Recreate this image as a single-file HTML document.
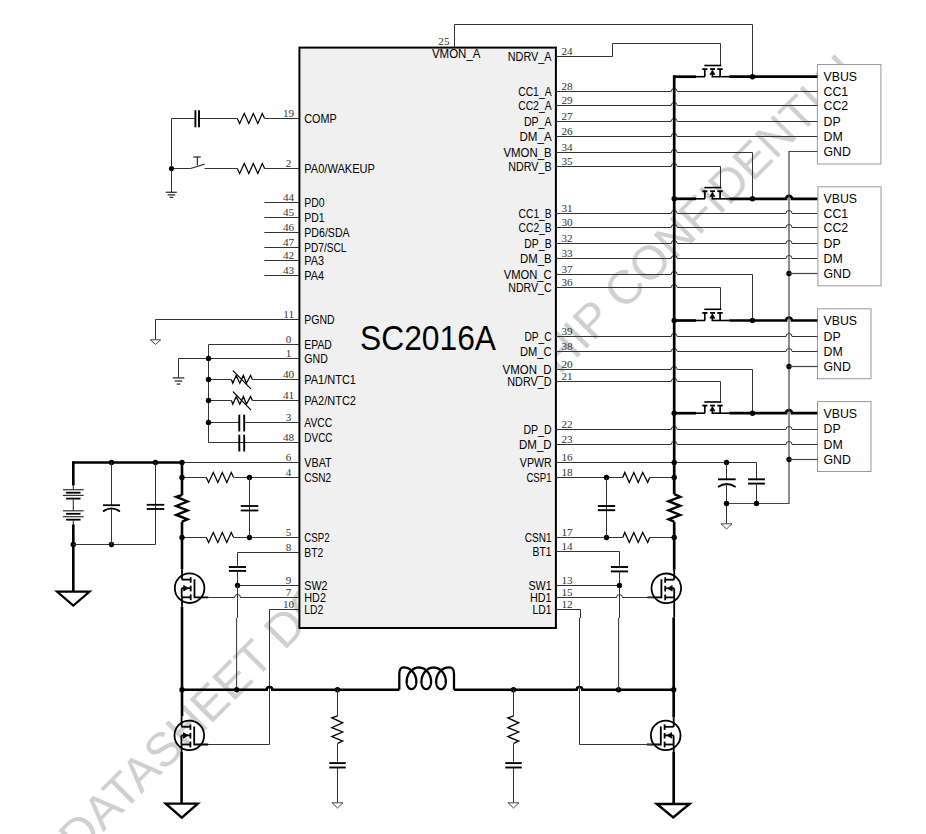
<!DOCTYPE html>
<html><head><meta charset="utf-8"><style>
html,body{margin:0;padding:0;background:#fff;}
svg{display:block;}
</style></head><body>
<svg width="926" height="834" viewBox="0 0 926 834">
<rect width="926" height="834" fill="#fff"/>
<text x="78.8" y="856.5" font-family="Liberation Sans" font-size="47.5" fill="#d0d0d0" transform="rotate(-45 78.8 856.5)">DATASHEET DOCUMENT</text><text x="534.9" y="400.1" font-family="Liberation Sans" font-size="47.5" fill="#d0d0d0" transform="rotate(-45 534.9 400.1)">CHIP CONFIDENTIAL</text>
<rect x="299.4" y="47.6" width="256.50" height="580.40" fill="#f0f0f0" stroke="#000" stroke-width="2"/>
<rect x="817.4" y="64.5" width="63.50" height="99.50" fill="#fff" stroke="#999" stroke-width="1"/><rect x="817.9" y="186.8" width="63.10" height="99.00" fill="#fff" stroke="#999" stroke-width="1"/><rect x="817.5" y="308.8" width="53.50" height="69.90" fill="#fff" stroke="#999" stroke-width="1"/><rect x="817.5" y="401.6" width="53.50" height="69.90" fill="#fff" stroke="#999" stroke-width="1"/>
<g stroke-linecap="butt">
<line x1="264.40" y1="202.50" x2="299.40" y2="202.50" stroke="#333" stroke-width="1.2"/>
<line x1="264.40" y1="217.50" x2="299.40" y2="217.50" stroke="#333" stroke-width="1.2"/>
<line x1="264.40" y1="232.50" x2="299.40" y2="232.50" stroke="#333" stroke-width="1.2"/>
<line x1="264.40" y1="247.50" x2="299.40" y2="247.50" stroke="#333" stroke-width="1.2"/>
<line x1="264.40" y1="260.50" x2="299.40" y2="260.50" stroke="#333" stroke-width="1.2"/>
<line x1="264.40" y1="275.50" x2="299.40" y2="275.50" stroke="#333" stroke-width="1.2"/>
<path d="M299.40,118.50 L265.00,118.50" stroke="#333" stroke-width="1.0" fill="none" stroke-linejoin="miter"/>
<path d="M237.30,118.50 L239.60,123.50 L244.30,113.50 L248.80,123.50 L253.30,113.50 L257.80,123.50 L262.30,113.50 L264.60,118.50" stroke="#000" stroke-width="1.2" fill="none" stroke-linejoin="miter"/>
<path d="M237.30,118.50 L199.00,118.50" stroke="#333" stroke-width="1.0" fill="none" stroke-linejoin="miter"/>
<line x1="195.40" y1="110.20" x2="195.40" y2="127.30" stroke="#000" stroke-width="1.9"/>
<line x1="199.00" y1="110.20" x2="199.00" y2="127.30" stroke="#000" stroke-width="1.9"/>
<path d="M195.40,118.50 L171.50,118.50 L171.50,192.30" stroke="#333" stroke-width="1.0" fill="none" stroke-linejoin="miter"/>
<path d="M299.40,168.50 L264.60,168.50" stroke="#333" stroke-width="1.0" fill="none" stroke-linejoin="miter"/>
<path d="M237.30,168.50 L239.60,173.50 L244.30,163.50 L248.80,173.50 L253.30,163.50 L257.80,173.50 L262.30,163.50 L264.60,168.50" stroke="#000" stroke-width="1.2" fill="none" stroke-linejoin="miter"/>
<line x1="204.60" y1="168.50" x2="237.30" y2="168.50" stroke="#333" stroke-width="1.0"/>
<line x1="171.50" y1="168.50" x2="190.60" y2="168.50" stroke="#333" stroke-width="1.0"/>
<line x1="190.60" y1="168.50" x2="204.60" y2="164.10" stroke="#333" stroke-width="1.3"/>
<line x1="197.40" y1="157.00" x2="197.40" y2="165.30" stroke="#333" stroke-width="1.3"/>
<line x1="193.30" y1="157.00" x2="200.80" y2="157.00" stroke="#333" stroke-width="1.3"/>
<circle cx="171.50" cy="168.50" r="2.6" fill="#000"/>
<line x1="165.80" y1="192.30" x2="176.80" y2="192.30" stroke="#333" stroke-width="1.3"/>
<line x1="167.60" y1="194.90" x2="175.20" y2="194.90" stroke="#333" stroke-width="1.3"/>
<line x1="169.60" y1="197.40" x2="173.20" y2="197.40" stroke="#333" stroke-width="1.3"/>
<path d="M299.40,319.50 L155.50,319.50 L155.50,339.80" stroke="#333" stroke-width="1.0" fill="none" stroke-linejoin="miter"/>
<path d="M150.30,339.80 L160.70,339.80 L155.50,344.40Z" stroke="#444" stroke-width="1.0" fill="none" stroke-linejoin="miter"/>
<path d="M299.40,344.50 L208.50,344.50 L208.50,442.50 L299.40,442.50" stroke="#333" stroke-width="1.0" fill="none" stroke-linejoin="miter"/>
<path d="M299.40,358.50 L178.50,358.50 L178.50,377.90" stroke="#333" stroke-width="1.0" fill="none" stroke-linejoin="miter"/>
<line x1="172.70" y1="377.90" x2="184.30" y2="377.90" stroke="#333" stroke-width="1.3"/>
<line x1="174.70" y1="381.00" x2="182.30" y2="381.00" stroke="#333" stroke-width="1.3"/>
<line x1="176.70" y1="384.10" x2="180.30" y2="384.10" stroke="#333" stroke-width="1.3"/>
<circle cx="208.50" cy="358.50" r="2.7" fill="#000"/>
<line x1="208.50" y1="379.50" x2="231.40" y2="379.50" stroke="#333" stroke-width="1.0"/>
<line x1="252.40" y1="379.50" x2="299.40" y2="379.50" stroke="#333" stroke-width="1.0"/>
<path d="M231.40,379.50 L232.80,383.30 L236.20,375.50 L239.80,383.30 L243.40,375.50 L246.40,383.30 L250.60,375.50 L252.40,379.50" stroke="#000" stroke-width="1.3" fill="none" stroke-linejoin="miter"/>
<line x1="233.2" y1="370.90" x2="250.6" y2="388.60" stroke="#000" stroke-width="1.3" stroke-linecap="round"/>
<circle cx="208.50" cy="379.50" r="2.7" fill="#000"/>
<line x1="208.50" y1="400.50" x2="231.40" y2="400.50" stroke="#333" stroke-width="1.0"/>
<line x1="252.40" y1="400.50" x2="299.40" y2="400.50" stroke="#333" stroke-width="1.0"/>
<path d="M231.40,400.50 L232.80,404.30 L236.20,396.50 L239.80,404.30 L243.40,396.50 L246.40,404.30 L250.60,396.50 L252.40,400.50" stroke="#000" stroke-width="1.3" fill="none" stroke-linejoin="miter"/>
<line x1="233.2" y1="391.90" x2="250.6" y2="409.60" stroke="#000" stroke-width="1.3" stroke-linecap="round"/>
<circle cx="208.50" cy="400.50" r="2.7" fill="#000"/>
<line x1="208.50" y1="422.50" x2="239.30" y2="422.50" stroke="#333" stroke-width="1.0"/>
<line x1="244.20" y1="422.50" x2="299.40" y2="422.50" stroke="#333" stroke-width="1.0"/>
<line x1="239.30" y1="414.70" x2="239.30" y2="431.50" stroke="#000" stroke-width="1.9"/>
<line x1="244.20" y1="414.70" x2="244.20" y2="431.50" stroke="#000" stroke-width="1.9"/>
<line x1="208.50" y1="442.50" x2="239.30" y2="442.50" stroke="#333" stroke-width="1.0"/>
<line x1="244.20" y1="442.50" x2="299.40" y2="442.50" stroke="#333" stroke-width="1.0"/>
<line x1="239.30" y1="434.70" x2="239.30" y2="451.50" stroke="#000" stroke-width="1.9"/>
<line x1="244.20" y1="434.70" x2="244.20" y2="451.50" stroke="#000" stroke-width="1.9"/>
<circle cx="208.50" cy="422.50" r="2.7" fill="#000"/>
<line x1="73.00" y1="462.50" x2="182.00" y2="462.50" stroke="#000" stroke-width="2.6"/>
<line x1="182.00" y1="462.50" x2="299.40" y2="462.50" stroke="#333" stroke-width="1.0"/>
<circle cx="111.50" cy="462.50" r="2.7" fill="#000"/>
<circle cx="155.50" cy="462.50" r="2.7" fill="#000"/>
<circle cx="182.00" cy="462.50" r="2.7" fill="#000"/>
<line x1="73.30" y1="461.20" x2="73.30" y2="484.40" stroke="#000" stroke-width="2.6"/>
<circle cx="73.3" cy="484.4" r="1.3" fill="#000"/>
<line x1="73.30" y1="484.40" x2="73.30" y2="489.70" stroke="#333" stroke-width="1.1"/>
<line x1="62.90" y1="489.70" x2="83.70" y2="489.70" stroke="#333" stroke-width="1.2"/>
<line x1="66.10" y1="492.70" x2="80.50" y2="492.70" stroke="#000" stroke-width="1.8"/>
<line x1="62.90" y1="495.40" x2="83.70" y2="495.40" stroke="#333" stroke-width="1.2"/>
<line x1="66.10" y1="498.60" x2="80.50" y2="498.60" stroke="#000" stroke-width="1.8"/>
<line x1="62.90" y1="510.80" x2="83.70" y2="510.80" stroke="#333" stroke-width="1.2"/>
<line x1="66.10" y1="513.80" x2="80.50" y2="513.80" stroke="#000" stroke-width="1.8"/>
<line x1="62.90" y1="516.70" x2="83.70" y2="516.70" stroke="#333" stroke-width="1.2"/>
<line x1="66.10" y1="519.70" x2="80.50" y2="519.70" stroke="#000" stroke-width="1.8"/>
<line x1="73.30" y1="498.60" x2="73.30" y2="510.80" stroke="#333" stroke-width="1.1"/>
<line x1="73.30" y1="519.70" x2="73.30" y2="525.60" stroke="#333" stroke-width="1.1"/>
<circle cx="73.3" cy="525.6" r="1.3" fill="#000"/>
<line x1="73.30" y1="525.60" x2="73.30" y2="591.60" stroke="#000" stroke-width="2.6"/>
<circle cx="73.30" cy="544.50" r="2.7" fill="#000"/>
<path d="M73.30,544.50 L155.50,544.50" stroke="#333" stroke-width="1.0" fill="none" stroke-linejoin="miter"/>
<circle cx="111.50" cy="544.50" r="2.7" fill="#000"/>
<line x1="111.50" y1="462.50" x2="111.50" y2="505.20" stroke="#333" stroke-width="1.0"/>
<line x1="111.50" y1="508.40" x2="111.50" y2="544.50" stroke="#333" stroke-width="1.0"/>
<line x1="103.00" y1="505.20" x2="120.00" y2="505.20" stroke="#000" stroke-width="1.8"/>
<path d="M103,511.4 Q111.4,505.4 120,511.4" stroke="#000" stroke-width="1.8" fill="none"/>
<line x1="155.50" y1="462.50" x2="155.50" y2="544.50" stroke="#333" stroke-width="1.0"/>
<line x1="146.70" y1="504.80" x2="164.30" y2="504.80" stroke="#000" stroke-width="1.8"/>
<line x1="146.70" y1="509.00" x2="164.30" y2="509.00" stroke="#000" stroke-width="1.8"/>
<path d="M57.00,591.60 L89.60,591.60 L73.30,605.60Z" stroke="#000" stroke-width="2.2" fill="none" stroke-linejoin="miter"/>
<line x1="182.00" y1="477.50" x2="206.80" y2="477.50" stroke="#333" stroke-width="1.0"/>
<path d="M206.30,477.50 L208.60,482.50 L213.30,472.50 L217.80,482.50 L222.30,472.50 L226.80,482.50 L231.30,472.50 L233.60,477.50" stroke="#000" stroke-width="1.2" fill="none" stroke-linejoin="miter"/>
<line x1="234.10" y1="477.50" x2="299.40" y2="477.50" stroke="#333" stroke-width="1.0"/>
<circle cx="182.00" cy="477.50" r="2.7" fill="#000"/>
<circle cx="249.50" cy="477.50" r="2.7" fill="#000"/>
<line x1="182.00" y1="537.50" x2="206.80" y2="537.50" stroke="#333" stroke-width="1.0"/>
<path d="M206.30,537.50 L208.60,542.50 L213.30,532.50 L217.80,542.50 L222.30,532.50 L226.80,542.50 L231.30,532.50 L233.60,537.50" stroke="#000" stroke-width="1.2" fill="none" stroke-linejoin="miter"/>
<line x1="234.10" y1="537.50" x2="299.40" y2="537.50" stroke="#333" stroke-width="1.0"/>
<circle cx="182.00" cy="537.50" r="2.7" fill="#000"/>
<circle cx="249.50" cy="537.50" r="2.7" fill="#000"/>
<line x1="249.50" y1="477.50" x2="249.50" y2="537.50" stroke="#333" stroke-width="1.0"/>
<line x1="240.70" y1="506.00" x2="258.30" y2="506.00" stroke="#000" stroke-width="1.8"/>
<line x1="240.70" y1="510.50" x2="258.30" y2="510.50" stroke="#000" stroke-width="1.8"/>
<line x1="182.00" y1="462.50" x2="182.00" y2="495.40" stroke="#000" stroke-width="2.6"/>
<path d="M182.00,495.00 L176.20,496.90 L187.60,501.50 L176.20,506.00 L187.60,510.40 L176.20,514.90 L187.60,519.30 L182.00,521.70" stroke="#000" stroke-width="2.4" fill="none" stroke-linejoin="miter"/>
<line x1="182.00" y1="521.70" x2="182.00" y2="569.30" stroke="#000" stroke-width="2.6"/>
<line x1="182.00" y1="569.30" x2="182.00" y2="579.40" stroke="#000" stroke-width="1.8"/>
<line x1="182.00" y1="597.40" x2="182.00" y2="606.50" stroke="#000" stroke-width="1.8"/>
<line x1="182.00" y1="606.50" x2="182.00" y2="716.40" stroke="#000" stroke-width="2.6"/>
<line x1="181.60" y1="716.40" x2="181.60" y2="726.80" stroke="#000" stroke-width="1.8"/>
<line x1="181.60" y1="744.50" x2="181.60" y2="752.00" stroke="#000" stroke-width="1.8"/>
<line x1="181.60" y1="752.00" x2="181.60" y2="803.60" stroke="#000" stroke-width="2.6"/>
<circle cx="189.60" cy="588.20" r="14.8" stroke="#000" stroke-width="1.8" fill="none"/>
<path d="M181.70,579.60 L190.70,579.60" stroke="#000" stroke-width="1.8" fill="none" stroke-linejoin="miter"/>
<path d="M190.70,597.30 L181.70,597.30" stroke="#000" stroke-width="1.8" fill="none" stroke-linejoin="miter"/>
<line x1="181.70" y1="588.20" x2="181.70" y2="597.30" stroke="#000" stroke-width="1.8"/>
<line x1="190.70" y1="588.20" x2="181.70" y2="588.20" stroke="#000" stroke-width="1.8"/>
<line x1="190.70" y1="577.20" x2="190.70" y2="582.70" stroke="#000" stroke-width="1.8"/>
<line x1="190.70" y1="585.70" x2="190.70" y2="591.40" stroke="#000" stroke-width="1.8"/>
<line x1="190.70" y1="594.40" x2="190.70" y2="600.20" stroke="#000" stroke-width="1.8"/>
<path d="M188.10,588.20 L183.70,585.40 L183.70,591.00Z" stroke="#000" stroke-width="0.8" fill="#000" stroke-linejoin="miter"/>
<path d="M194.50,579.20 L194.50,597.30 L208.50,597.30" stroke="#000" stroke-width="1.8" fill="none" stroke-linejoin="miter"/>
<path d="M299.40,552.50 L237.50,552.50 L237.50,567.00" stroke="#333" stroke-width="1.0" fill="none" stroke-linejoin="miter"/>
<line x1="228.90" y1="567.00" x2="246.10" y2="567.00" stroke="#000" stroke-width="1.9"/>
<line x1="228.90" y1="570.90" x2="246.10" y2="570.90" stroke="#000" stroke-width="1.9"/>
<line x1="237.50" y1="570.90" x2="237.50" y2="585.50" stroke="#333" stroke-width="1.0"/>
<line x1="237.50" y1="585.50" x2="299.40" y2="585.50" stroke="#333" stroke-width="1.0"/>
<circle cx="237.50" cy="585.50" r="2.7" fill="#000"/>
<line x1="237.50" y1="585.50" x2="237.50" y2="618.00" stroke="#333" stroke-width="1.0"/>
<line x1="236.60" y1="618.00" x2="236.60" y2="689.80" stroke="#333" stroke-width="1.0"/>
<path d="M208.60,597.50 L234.50,597.50 A3.0,3.0 0 0 1 240.50,597.50 L299.40,597.50" stroke="#333" stroke-width="1.0" fill="none"/>
<path d="M299.40,609.50 L269.50,609.50 L269.50,744.50 L207.50,744.50" stroke="#333" stroke-width="1.0" fill="none" stroke-linejoin="miter"/>
<circle cx="189.30" cy="735.40" r="14.8" stroke="#000" stroke-width="1.8" fill="none"/>
<path d="M181.40,726.80 L190.40,726.80" stroke="#000" stroke-width="1.8" fill="none" stroke-linejoin="miter"/>
<path d="M190.40,744.50 L181.40,744.50" stroke="#000" stroke-width="1.8" fill="none" stroke-linejoin="miter"/>
<line x1="181.40" y1="735.40" x2="181.40" y2="744.50" stroke="#000" stroke-width="1.8"/>
<line x1="190.40" y1="735.40" x2="181.40" y2="735.40" stroke="#000" stroke-width="1.8"/>
<line x1="190.40" y1="724.40" x2="190.40" y2="729.90" stroke="#000" stroke-width="1.8"/>
<line x1="190.40" y1="732.90" x2="190.40" y2="738.60" stroke="#000" stroke-width="1.8"/>
<line x1="190.40" y1="741.60" x2="190.40" y2="747.40" stroke="#000" stroke-width="1.8"/>
<path d="M187.80,735.40 L183.40,732.60 L183.40,738.20Z" stroke="#000" stroke-width="0.8" fill="#000" stroke-linejoin="miter"/>
<path d="M194.20,726.40 L194.20,744.50 L208.20,744.50" stroke="#000" stroke-width="1.8" fill="none" stroke-linejoin="miter"/>
<path d="M165.80,803.60 L197.80,803.60 L181.80,817.60Z" stroke="#000" stroke-width="2.4" fill="none" stroke-linejoin="miter"/>
<path d="M182.00,689.80 L266.70,689.80 A2.8,2.8 0 0 1 272.30,689.80 L399.30,689.80" stroke="#000" stroke-width="2.6" fill="none"/>
<path d="M454.00,689.80 L576.70,689.80 A2.8,2.8 0 0 1 582.30,689.80 L673.70,689.80" stroke="#000" stroke-width="2.6" fill="none"/>
<circle cx="182.00" cy="689.80" r="2.7" fill="#000"/>
<circle cx="236.60" cy="689.80" r="2.7" fill="#000"/>
<circle cx="337.50" cy="689.80" r="2.7" fill="#000"/>
<circle cx="513.50" cy="689.80" r="2.7" fill="#000"/>
<circle cx="618.60" cy="689.80" r="2.7" fill="#000"/>
<circle cx="673.70" cy="689.80" r="2.7" fill="#000"/>
<path d="M399.3,689.8 L399.3,673.6 C399.3,669.2 401.1,667 404.12,667.50 L404.62,667.51 L405.11,667.55 L405.61,667.61 L406.10,667.69 L406.58,667.80 L407.07,667.93 L407.54,668.08 L408.01,668.26 L408.48,668.46 L408.94,668.68 L409.38,668.92 L409.82,669.18 L410.26,669.46 L410.68,669.77 L411.08,670.09 L411.48,670.43 L411.87,670.78 L412.24,671.16 L412.60,671.55 L412.94,671.95 L413.27,672.37 L413.58,672.80 L413.88,673.25 L414.16,673.70 L414.43,674.17 L414.68,674.64 L414.91,675.12 L415.13,675.61 L415.32,676.11 L415.50,676.61 L415.67,677.11 L415.81,677.62 L415.93,678.13 L416.04,678.64 L416.13,679.15 L416.20,679.65 L416.26,680.16 L416.29,680.66 L416.31,681.15 L416.31,681.64 L416.29,682.12 L416.26,682.59 L416.21,683.05 L416.14,683.50 L416.06,683.94 L415.96,684.37 L415.85,684.78 L415.72,685.18 L415.58,685.57 L415.43,685.94 L415.26,686.29 L415.08,686.62 L414.89,686.94 L414.69,687.23 L414.47,687.51 L414.25,687.76 L414.02,688.00 L413.78,688.21 L413.54,688.40 L413.28,688.57 L413.03,688.72 L412.76,688.84 L412.50,688.94 L412.23,689.01 L411.96,689.07 L411.68,689.09 L411.41,689.10 L411.14,689.08 L410.86,689.03 L410.59,688.97 L410.32,688.88 L410.06,688.76 L409.80,688.62 L409.55,688.46 L409.30,688.28 L409.06,688.07 L408.82,687.84 L408.60,687.60 L408.38,687.33 L408.18,687.04 L407.98,686.73 L407.80,686.40 L407.63,686.06 L407.47,685.69 L407.32,685.31 L407.19,684.92 L407.07,684.51 L406.97,684.09 L406.88,683.65 L406.81,683.20 L406.75,682.74 L406.72,682.28 L406.69,681.80 L406.69,681.31 L406.70,680.82 L406.73,680.32 L406.78,679.82 L406.84,679.32 L406.93,678.81 L407.03,678.30 L407.15,677.79 L407.28,677.28 L407.44,676.78 L407.61,676.28 L407.81,675.78 L408.02,675.29 L408.24,674.80 L408.49,674.32 L408.75,673.86 L409.02,673.40 L409.32,672.95 L409.63,672.51 L409.95,672.09 L410.29,671.68 L410.64,671.29 L411.01,670.91 L411.39,670.54 L411.78,670.20 L412.19,669.87 L412.60,669.56 L413.03,669.27 L413.47,669.00 L413.91,668.76 L414.37,668.53 L414.83,668.32 L415.30,668.14 L415.78,667.98 L416.26,667.84 L416.74,667.72 L417.23,667.63 L417.72,667.57 L418.22,667.52 L418.71,667.50 L419.21,667.51 L419.70,667.53 L420.19,667.59 L420.68,667.66 L421.17,667.76 L421.66,667.88 L422.13,668.03 L422.61,668.20 L423.07,668.39 L423.53,668.60 L423.99,668.84 L424.43,669.09 L424.86,669.37 L425.29,669.66 L425.70,669.98 L426.10,670.31 L426.49,670.66 L426.86,671.03 L427.23,671.42 L427.58,671.82 L427.91,672.23 L428.23,672.66 L428.53,673.10 L428.82,673.55 L429.09,674.01 L429.35,674.48 L429.59,674.96 L429.81,675.45 L430.01,675.94 L430.20,676.44 L430.36,676.95 L430.51,677.45 L430.64,677.96 L430.76,678.47 L430.85,678.98 L430.93,679.49 L430.99,679.99 L431.03,680.49 L431.06,680.99 L431.06,681.48 L431.05,681.96 L431.02,682.43 L430.98,682.90 L430.92,683.35 L430.84,683.80 L430.75,684.23 L430.64,684.65 L430.52,685.05 L430.38,685.44 L430.23,685.82 L430.07,686.17 L429.89,686.51 L429.70,686.83 L429.50,687.14 L429.29,687.42 L429.08,687.68 L428.85,687.92 L428.61,688.14 L428.37,688.34 L428.12,688.52 L427.86,688.67 L427.60,688.80 L427.34,688.91 L427.07,688.99 L426.80,689.05 L426.52,689.09 L426.25,689.10 L425.98,689.09 L425.70,689.05 L425.43,688.99 L425.16,688.91 L424.90,688.80 L424.64,688.67 L424.38,688.52 L424.13,688.34 L423.89,688.14 L423.65,687.92 L423.42,687.68 L423.21,687.42 L423.00,687.14 L422.80,686.83 L422.61,686.51 L422.43,686.17 L422.27,685.82 L422.12,685.44 L421.98,685.05 L421.86,684.65 L421.75,684.23 L421.66,683.80 L421.58,683.35 L421.52,682.90 L421.48,682.43 L421.45,681.96 L421.44,681.48 L421.44,680.99 L421.47,680.49 L421.51,679.99 L421.57,679.49 L421.65,678.98 L421.74,678.47 L421.86,677.96 L421.99,677.45 L422.14,676.95 L422.30,676.44 L422.49,675.94 L422.69,675.45 L422.91,674.96 L423.15,674.48 L423.41,674.01 L423.68,673.55 L423.97,673.10 L424.27,672.66 L424.59,672.23 L424.92,671.82 L425.27,671.42 L425.64,671.03 L426.01,670.66 L426.40,670.31 L426.80,669.98 L427.21,669.66 L427.64,669.37 L428.07,669.09 L428.51,668.84 L428.97,668.60 L429.43,668.39 L429.89,668.20 L430.37,668.03 L430.84,667.88 L431.33,667.76 L431.82,667.66 L432.31,667.59 L432.80,667.53 L433.29,667.51 L433.79,667.50 L434.28,667.52 L434.78,667.57 L435.27,667.63 L435.76,667.72 L436.24,667.84 L436.72,667.98 L437.20,668.14 L437.67,668.32 L438.13,668.53 L438.59,668.76 L439.03,669.00 L439.47,669.27 L439.90,669.56 L440.31,669.87 L440.72,670.20 L441.11,670.54 L441.49,670.91 L441.86,671.29 L442.21,671.68 L442.55,672.09 L442.87,672.51 L443.18,672.95 L443.48,673.40 L443.75,673.86 L444.01,674.32 L444.26,674.80 L444.48,675.29 L444.69,675.78 L444.89,676.28 L445.06,676.78 L445.22,677.28 L445.35,677.79 L445.47,678.30 L445.57,678.81 L445.66,679.32 L445.72,679.82 L445.77,680.32 L445.80,680.82 L445.81,681.31 L445.81,681.80 L445.78,682.28 L445.75,682.74 L445.69,683.20 L445.62,683.65 L445.53,684.09 L445.43,684.51 L445.31,684.92 L445.18,685.31 L445.03,685.69 L444.87,686.06 L444.70,686.40 L444.52,686.73 L444.32,687.04 L444.12,687.33 L443.90,687.60 L443.68,687.84 L443.44,688.07 L443.20,688.28 L442.95,688.46 L442.70,688.62 L442.44,688.76 L442.18,688.88 L441.91,688.97 L441.64,689.03 L441.36,689.08 L441.09,689.10 L440.82,689.09 L440.54,689.07 L440.27,689.01 L440.00,688.94 L439.74,688.84 L439.47,688.72 L439.22,688.57 L438.96,688.40 L438.72,688.21 L438.48,688.00 L438.25,687.76 L438.03,687.51 L437.81,687.23 L437.61,686.94 L437.42,686.62 L437.24,686.29 L437.07,685.94 L436.92,685.57 L436.78,685.18 L436.65,684.78 L436.54,684.37 L436.44,683.94 L436.36,683.50 L436.29,683.05 L436.24,682.59 L436.21,682.12 L436.19,681.64 L436.19,681.15 L436.21,680.66 L436.24,680.16 L436.30,679.65 L436.37,679.15 L436.46,678.64 L436.57,678.13 L436.69,677.62 L436.83,677.11 L437.00,676.61 L437.18,676.11 L437.37,675.61 L437.59,675.12 L437.82,674.64 L438.07,674.17 L438.34,673.70 L438.62,673.25 L438.92,672.80 L439.23,672.37 L439.56,671.95 L439.90,671.55 L440.26,671.16 L440.63,670.78 L441.02,670.43 L441.42,670.09 L441.82,669.77 L442.24,669.46 L442.68,669.18 L443.12,668.92 L443.56,668.68 L444.02,668.46 L444.49,668.26 L444.96,668.08 L445.43,667.93 L445.92,667.80 L446.40,667.69 L446.89,667.61 L447.39,667.55 L447.88,667.51 L448.38,667.50 C452.2,667 454,669.2 454,673.6 L454,689.8" stroke="#000" stroke-width="2.3" fill="none" stroke-linejoin="round"/>
<line x1="337.50" y1="689.80" x2="337.50" y2="715.90" stroke="#333" stroke-width="1.0"/>
<path d="M337.50,715.90 L331.80,717.90 L342.70,722.80 L331.80,727.60 L342.70,732.00 L331.80,736.60 L342.70,741.10 L337.50,743.40" stroke="#000" stroke-width="1.3" fill="none" stroke-linejoin="miter"/>
<line x1="337.50" y1="743.40" x2="337.50" y2="763.10" stroke="#333" stroke-width="1.0"/>
<line x1="329.30" y1="763.10" x2="345.70" y2="763.10" stroke="#000" stroke-width="1.9"/>
<line x1="329.30" y1="767.50" x2="345.70" y2="767.50" stroke="#000" stroke-width="1.9"/>
<line x1="337.50" y1="767.50" x2="337.50" y2="802.80" stroke="#333" stroke-width="1.0"/>
<path d="M332.10,802.80 L342.90,802.80 L337.50,808.00Z" stroke="#444" stroke-width="1.0" fill="none" stroke-linejoin="miter"/>
<line x1="513.50" y1="689.80" x2="513.50" y2="715.90" stroke="#333" stroke-width="1.0"/>
<path d="M513.50,715.90 L507.80,717.90 L518.70,722.80 L507.80,727.60 L518.70,732.00 L507.80,736.60 L518.70,741.10 L513.50,743.40" stroke="#000" stroke-width="1.3" fill="none" stroke-linejoin="miter"/>
<line x1="513.50" y1="743.40" x2="513.50" y2="763.10" stroke="#333" stroke-width="1.0"/>
<line x1="505.30" y1="763.10" x2="521.70" y2="763.10" stroke="#000" stroke-width="1.9"/>
<line x1="505.30" y1="767.50" x2="521.70" y2="767.50" stroke="#000" stroke-width="1.9"/>
<line x1="513.50" y1="767.50" x2="513.50" y2="802.80" stroke="#333" stroke-width="1.0"/>
<path d="M508.10,802.80 L518.90,802.80 L513.50,808.00Z" stroke="#444" stroke-width="1.0" fill="none" stroke-linejoin="miter"/>
<path d="M555.90,91.50 L671.20,91.50 A3.0,3.0 0 0 1 677.20,91.50 L817.40,91.50" stroke="#333" stroke-width="1.0" fill="none"/>
<path d="M555.90,105.50 L671.20,105.50 A3.0,3.0 0 0 1 677.20,105.50 L817.40,105.50" stroke="#333" stroke-width="1.0" fill="none"/>
<path d="M555.90,121.50 L671.20,121.50 A3.0,3.0 0 0 1 677.20,121.50 L817.40,121.50" stroke="#333" stroke-width="1.0" fill="none"/>
<path d="M555.90,136.50 L671.20,136.50 A3.0,3.0 0 0 1 677.20,136.50 L817.40,136.50" stroke="#333" stroke-width="1.0" fill="none"/>
<path d="M555.90,213.50 L671.20,213.50 A3.0,3.0 0 0 1 677.20,213.50 L786.00,213.50 A3.0,3.0 0 0 1 792.00,213.50 L817.40,213.50" stroke="#333" stroke-width="1.0" fill="none"/>
<path d="M555.90,227.50 L671.20,227.50 A3.0,3.0 0 0 1 677.20,227.50 L786.00,227.50 A3.0,3.0 0 0 1 792.00,227.50 L817.40,227.50" stroke="#333" stroke-width="1.0" fill="none"/>
<path d="M555.90,243.50 L671.20,243.50 A3.0,3.0 0 0 1 677.20,243.50 L786.00,243.50 A3.0,3.0 0 0 1 792.00,243.50 L817.40,243.50" stroke="#333" stroke-width="1.0" fill="none"/>
<path d="M555.90,258.50 L671.20,258.50 A3.0,3.0 0 0 1 677.20,258.50 L786.00,258.50 A3.0,3.0 0 0 1 792.00,258.50 L817.40,258.50" stroke="#333" stroke-width="1.0" fill="none"/>
<path d="M555.90,336.50 L671.20,336.50 A3.0,3.0 0 0 1 677.20,336.50 L786.00,336.50 A3.0,3.0 0 0 1 792.00,336.50 L817.40,336.50" stroke="#333" stroke-width="1.0" fill="none"/>
<path d="M555.90,351.50 L671.20,351.50 A3.0,3.0 0 0 1 677.20,351.50 L786.00,351.50 A3.0,3.0 0 0 1 792.00,351.50 L817.40,351.50" stroke="#333" stroke-width="1.0" fill="none"/>
<path d="M555.90,429.50 L671.20,429.50 A3.0,3.0 0 0 1 677.20,429.50 L786.00,429.50 A3.0,3.0 0 0 1 792.00,429.50 L817.40,429.50" stroke="#333" stroke-width="1.0" fill="none"/>
<path d="M555.90,444.50 L671.20,444.50 A3.0,3.0 0 0 1 677.20,444.50 L786.00,444.50 A3.0,3.0 0 0 1 792.00,444.50 L817.40,444.50" stroke="#333" stroke-width="1.0" fill="none"/>
<path d="M555.90,56.50 L612.50,56.50 L612.50,43.50 L720.50,43.50 L720.50,65.50" stroke="#333" stroke-width="1.0" fill="none" stroke-linejoin="miter"/>
<path d="M454.50,47.60 L454.50,24.50 L752.50,24.50 L752.50,76.70" stroke="#333" stroke-width="1.0" fill="none" stroke-linejoin="miter"/>
<path d="M555.90,152.50 L671.20,152.50 A3.0,3.0 0 0 1 677.20,152.50 L752.50,152.50" stroke="#333" stroke-width="1.0" fill="none"/>
<line x1="752.50" y1="152.50" x2="752.50" y2="198.80" stroke="#333" stroke-width="1.0"/>
<path d="M555.90,166.50 L671.20,166.50 A3.0,3.0 0 0 1 677.20,166.50 L720.50,166.50" stroke="#333" stroke-width="1.0" fill="none"/>
<line x1="720.50" y1="166.50" x2="720.50" y2="187.60" stroke="#333" stroke-width="1.0"/>
<path d="M555.90,274.50 L671.20,274.50 A3.0,3.0 0 0 1 677.20,274.50 L752.50,274.50" stroke="#333" stroke-width="1.0" fill="none"/>
<line x1="752.50" y1="274.50" x2="752.50" y2="320.50" stroke="#333" stroke-width="1.0"/>
<path d="M555.90,287.50 L671.20,287.50 A3.0,3.0 0 0 1 677.20,287.50 L720.50,287.50" stroke="#333" stroke-width="1.0" fill="none"/>
<line x1="720.50" y1="287.50" x2="720.50" y2="309.30" stroke="#333" stroke-width="1.0"/>
<path d="M555.90,369.50 L671.20,369.50 A3.0,3.0 0 0 1 677.20,369.50 L752.50,369.50" stroke="#333" stroke-width="1.0" fill="none"/>
<line x1="752.50" y1="369.50" x2="752.50" y2="413.20" stroke="#333" stroke-width="1.0"/>
<path d="M555.90,381.50 L671.20,381.50 A3.0,3.0 0 0 1 677.20,381.50 L720.50,381.50" stroke="#333" stroke-width="1.0" fill="none"/>
<line x1="720.50" y1="381.50" x2="720.50" y2="402.00" stroke="#333" stroke-width="1.0"/>
<line x1="674.20" y1="76.70" x2="696.00" y2="76.70" stroke="#000" stroke-width="2.7"/>
<line x1="696.00" y1="76.70" x2="705.00" y2="76.70" stroke="#000" stroke-width="1.6"/>
<line x1="704.80" y1="69.00" x2="704.80" y2="76.70" stroke="#000" stroke-width="1.7"/>
<line x1="702.30" y1="69.10" x2="707.40" y2="69.10" stroke="#000" stroke-width="1.8"/>
<line x1="710.10" y1="69.10" x2="715.00" y2="69.10" stroke="#000" stroke-width="1.8"/>
<line x1="717.30" y1="69.10" x2="722.70" y2="69.10" stroke="#000" stroke-width="1.8"/>
<path d="M712.40,69.90 L709.90,74.50 L714.90,74.50Z" stroke="#000" stroke-width="0.6" fill="#000" stroke-linejoin="miter"/>
<line x1="712.40" y1="74.20" x2="712.40" y2="76.70" stroke="#000" stroke-width="1.6"/>
<line x1="711.60" y1="76.70" x2="729.50" y2="76.70" stroke="#000" stroke-width="1.6"/>
<line x1="720.10" y1="69.00" x2="720.10" y2="76.70" stroke="#000" stroke-width="1.7"/>
<line x1="704.30" y1="65.50" x2="721.30" y2="65.50" stroke="#000" stroke-width="1.6"/>
<line x1="729.30" y1="76.70" x2="817.40" y2="76.70" stroke="#000" stroke-width="2.7"/>
<circle cx="752.50" cy="76.70" r="2.7" fill="#000"/>
<line x1="674.20" y1="198.80" x2="696.00" y2="198.80" stroke="#000" stroke-width="2.7"/>
<line x1="696.00" y1="198.80" x2="705.00" y2="198.80" stroke="#000" stroke-width="1.6"/>
<line x1="704.80" y1="191.10" x2="704.80" y2="198.80" stroke="#000" stroke-width="1.7"/>
<line x1="702.30" y1="191.20" x2="707.40" y2="191.20" stroke="#000" stroke-width="1.8"/>
<line x1="710.10" y1="191.20" x2="715.00" y2="191.20" stroke="#000" stroke-width="1.8"/>
<line x1="717.30" y1="191.20" x2="722.70" y2="191.20" stroke="#000" stroke-width="1.8"/>
<path d="M712.40,192.00 L709.90,196.60 L714.90,196.60Z" stroke="#000" stroke-width="0.6" fill="#000" stroke-linejoin="miter"/>
<line x1="712.40" y1="196.30" x2="712.40" y2="198.80" stroke="#000" stroke-width="1.6"/>
<line x1="711.60" y1="198.80" x2="729.50" y2="198.80" stroke="#000" stroke-width="1.6"/>
<line x1="720.10" y1="191.10" x2="720.10" y2="198.80" stroke="#000" stroke-width="1.7"/>
<line x1="704.30" y1="187.60" x2="721.30" y2="187.60" stroke="#000" stroke-width="1.6"/>
<path d="M729.30,198.80 L786.00,198.80 A3,3 0 0 1 792.00,198.80 L817.40,198.80" stroke="#000" stroke-width="2.7" fill="none"/>
<circle cx="752.50" cy="198.80" r="2.7" fill="#000"/>
<circle cx="674.20" cy="198.80" r="2.7" fill="#000"/>
<line x1="674.20" y1="320.50" x2="696.00" y2="320.50" stroke="#000" stroke-width="2.7"/>
<line x1="696.00" y1="320.50" x2="705.00" y2="320.50" stroke="#000" stroke-width="1.6"/>
<line x1="704.80" y1="312.80" x2="704.80" y2="320.50" stroke="#000" stroke-width="1.7"/>
<line x1="702.30" y1="312.90" x2="707.40" y2="312.90" stroke="#000" stroke-width="1.8"/>
<line x1="710.10" y1="312.90" x2="715.00" y2="312.90" stroke="#000" stroke-width="1.8"/>
<line x1="717.30" y1="312.90" x2="722.70" y2="312.90" stroke="#000" stroke-width="1.8"/>
<path d="M712.40,313.70 L709.90,318.30 L714.90,318.30Z" stroke="#000" stroke-width="0.6" fill="#000" stroke-linejoin="miter"/>
<line x1="712.40" y1="318.00" x2="712.40" y2="320.50" stroke="#000" stroke-width="1.6"/>
<line x1="711.60" y1="320.50" x2="729.50" y2="320.50" stroke="#000" stroke-width="1.6"/>
<line x1="720.10" y1="312.80" x2="720.10" y2="320.50" stroke="#000" stroke-width="1.7"/>
<line x1="704.30" y1="309.30" x2="721.30" y2="309.30" stroke="#000" stroke-width="1.6"/>
<path d="M729.30,320.50 L786.00,320.50 A3,3 0 0 1 792.00,320.50 L817.40,320.50" stroke="#000" stroke-width="2.7" fill="none"/>
<circle cx="752.50" cy="320.50" r="2.7" fill="#000"/>
<circle cx="674.20" cy="320.50" r="2.7" fill="#000"/>
<line x1="674.20" y1="413.20" x2="696.00" y2="413.20" stroke="#000" stroke-width="2.7"/>
<line x1="696.00" y1="413.20" x2="705.00" y2="413.20" stroke="#000" stroke-width="1.6"/>
<line x1="704.80" y1="405.50" x2="704.80" y2="413.20" stroke="#000" stroke-width="1.7"/>
<line x1="702.30" y1="405.60" x2="707.40" y2="405.60" stroke="#000" stroke-width="1.8"/>
<line x1="710.10" y1="405.60" x2="715.00" y2="405.60" stroke="#000" stroke-width="1.8"/>
<line x1="717.30" y1="405.60" x2="722.70" y2="405.60" stroke="#000" stroke-width="1.8"/>
<path d="M712.40,406.40 L709.90,411.00 L714.90,411.00Z" stroke="#000" stroke-width="0.6" fill="#000" stroke-linejoin="miter"/>
<line x1="712.40" y1="410.70" x2="712.40" y2="413.20" stroke="#000" stroke-width="1.6"/>
<line x1="711.60" y1="413.20" x2="729.50" y2="413.20" stroke="#000" stroke-width="1.6"/>
<line x1="720.10" y1="405.50" x2="720.10" y2="413.20" stroke="#000" stroke-width="1.7"/>
<line x1="704.30" y1="402.00" x2="721.30" y2="402.00" stroke="#000" stroke-width="1.6"/>
<path d="M729.30,413.20 L786.00,413.20 A3,3 0 0 1 792.00,413.20 L817.40,413.20" stroke="#000" stroke-width="2.7" fill="none"/>
<circle cx="752.50" cy="413.20" r="2.7" fill="#000"/>
<circle cx="674.20" cy="413.20" r="2.7" fill="#000"/>
<line x1="674.20" y1="75.35" x2="674.20" y2="494.20" stroke="#000" stroke-width="2.7"/>
<path d="M674.20,494.20 L680.30,496.90 L668.50,501.20 L680.30,505.80 L668.50,510.30 L680.30,514.90 L668.50,519.30 L674.20,521.70" stroke="#000" stroke-width="2.4" fill="none" stroke-linejoin="miter"/>
<line x1="674.20" y1="521.70" x2="674.20" y2="569.80" stroke="#000" stroke-width="2.7"/>
<line x1="674.20" y1="569.80" x2="674.20" y2="579.70" stroke="#000" stroke-width="1.8"/>
<line x1="674.20" y1="597.30" x2="674.20" y2="617.40" stroke="#000" stroke-width="1.8"/>
<line x1="673.70" y1="617.40" x2="673.70" y2="717.40" stroke="#000" stroke-width="2.7"/>
<line x1="673.70" y1="717.40" x2="673.70" y2="726.80" stroke="#000" stroke-width="1.8"/>
<line x1="673.70" y1="744.50" x2="673.70" y2="752.00" stroke="#000" stroke-width="1.8"/>
<line x1="673.70" y1="752.00" x2="673.70" y2="804.00" stroke="#000" stroke-width="2.7"/>
<circle cx="666.30" cy="588.30" r="14.8" stroke="#000" stroke-width="1.8" fill="none"/>
<path d="M674.20,579.70 L665.20,579.70" stroke="#000" stroke-width="1.8" fill="none" stroke-linejoin="miter"/>
<path d="M665.20,597.40 L674.20,597.40" stroke="#000" stroke-width="1.8" fill="none" stroke-linejoin="miter"/>
<line x1="674.20" y1="588.30" x2="674.20" y2="597.40" stroke="#000" stroke-width="1.8"/>
<line x1="665.20" y1="588.30" x2="674.20" y2="588.30" stroke="#000" stroke-width="1.8"/>
<line x1="665.20" y1="577.30" x2="665.20" y2="582.80" stroke="#000" stroke-width="1.8"/>
<line x1="665.20" y1="585.80" x2="665.20" y2="591.50" stroke="#000" stroke-width="1.8"/>
<line x1="665.20" y1="594.50" x2="665.20" y2="600.30" stroke="#000" stroke-width="1.8"/>
<path d="M667.80,588.30 L672.20,585.50 L672.20,591.10Z" stroke="#000" stroke-width="0.8" fill="#000" stroke-linejoin="miter"/>
<path d="M661.40,579.30 L661.40,597.40 L647.40,597.40" stroke="#000" stroke-width="1.8" fill="none" stroke-linejoin="miter"/>
<circle cx="665.70" cy="735.40" r="14.8" stroke="#000" stroke-width="1.8" fill="none"/>
<path d="M673.60,726.80 L664.60,726.80" stroke="#000" stroke-width="1.8" fill="none" stroke-linejoin="miter"/>
<path d="M664.60,744.50 L673.60,744.50" stroke="#000" stroke-width="1.8" fill="none" stroke-linejoin="miter"/>
<line x1="673.60" y1="735.40" x2="673.60" y2="744.50" stroke="#000" stroke-width="1.8"/>
<line x1="664.60" y1="735.40" x2="673.60" y2="735.40" stroke="#000" stroke-width="1.8"/>
<line x1="664.60" y1="724.40" x2="664.60" y2="729.90" stroke="#000" stroke-width="1.8"/>
<line x1="664.60" y1="732.90" x2="664.60" y2="738.60" stroke="#000" stroke-width="1.8"/>
<line x1="664.60" y1="741.60" x2="664.60" y2="747.40" stroke="#000" stroke-width="1.8"/>
<path d="M667.20,735.40 L671.60,732.60 L671.60,738.20Z" stroke="#000" stroke-width="0.8" fill="#000" stroke-linejoin="miter"/>
<path d="M660.80,726.40 L660.80,744.50 L646.80,744.50" stroke="#000" stroke-width="1.8" fill="none" stroke-linejoin="miter"/>
<path d="M656.80,804.00 L689.60,804.00 L673.20,817.50Z" stroke="#000" stroke-width="2.4" fill="none" stroke-linejoin="miter"/>
<path d="M817.40,151.50 L789.00,151.50 L789.00,503.50 L726.50,503.50" stroke="#444" stroke-width="1.2" fill="none" stroke-linejoin="miter"/>
<circle cx="789.00" cy="273.50" r="2.7" fill="#000"/>
<circle cx="789.00" cy="366.50" r="2.7" fill="#000"/>
<circle cx="789.00" cy="459.50" r="2.7" fill="#000"/>
<line x1="789.00" y1="273.50" x2="817.40" y2="273.50" stroke="#444" stroke-width="1.2"/>
<line x1="789.00" y1="366.50" x2="817.40" y2="366.50" stroke="#444" stroke-width="1.2"/>
<line x1="789.00" y1="459.50" x2="817.40" y2="459.50" stroke="#444" stroke-width="1.2"/>
<path d="M555.90,462.50 L756.50,462.50 L756.50,479.30" stroke="#333" stroke-width="1.0" fill="none" stroke-linejoin="miter"/>
<circle cx="674.20" cy="462.50" r="2.7" fill="#000"/>
<circle cx="726.50" cy="462.50" r="2.7" fill="#000"/>
<line x1="726.50" y1="462.50" x2="726.50" y2="479.30" stroke="#333" stroke-width="1.0"/>
<line x1="718.00" y1="479.30" x2="735.70" y2="479.30" stroke="#000" stroke-width="1.9"/>
<path d="M718,487 Q726.7,481 735.7,487" stroke="#000" stroke-width="1.9" fill="none"/>
<line x1="726.50" y1="483.50" x2="726.50" y2="523.80" stroke="#333" stroke-width="1.0"/>
<line x1="748.10" y1="479.30" x2="764.90" y2="479.30" stroke="#000" stroke-width="1.9"/>
<line x1="748.10" y1="483.60" x2="764.90" y2="483.60" stroke="#000" stroke-width="1.9"/>
<line x1="756.50" y1="483.60" x2="756.50" y2="503.50" stroke="#333" stroke-width="1.0"/>
<circle cx="726.50" cy="503.50" r="2.7" fill="#000"/>
<circle cx="756.50" cy="503.50" r="2.7" fill="#000"/>
<path d="M721.00,523.80 L732.00,523.80 L726.50,529.00Z" stroke="#444" stroke-width="1.0" fill="none" stroke-linejoin="miter"/>
<line x1="555.90" y1="477.50" x2="622.70" y2="477.50" stroke="#333" stroke-width="1.0"/>
<path d="M622.70,477.50 L624.80,472.50 L629.30,482.50 L633.80,472.50 L638.20,482.50 L642.70,472.50 L647.70,482.50 L649.70,477.50" stroke="#000" stroke-width="1.3" fill="none" stroke-linejoin="miter"/>
<line x1="649.70" y1="477.50" x2="674.20" y2="477.50" stroke="#333" stroke-width="1.0"/>
<circle cx="606.50" cy="477.50" r="2.7" fill="#000"/>
<circle cx="674.20" cy="477.50" r="2.7" fill="#000"/>
<line x1="555.90" y1="537.50" x2="622.70" y2="537.50" stroke="#333" stroke-width="1.0"/>
<path d="M622.70,537.50 L624.80,532.50 L629.30,542.50 L633.80,532.50 L638.20,542.50 L642.70,532.50 L647.70,542.50 L649.70,537.50" stroke="#000" stroke-width="1.3" fill="none" stroke-linejoin="miter"/>
<line x1="649.70" y1="537.50" x2="674.20" y2="537.50" stroke="#333" stroke-width="1.0"/>
<circle cx="606.50" cy="537.50" r="2.7" fill="#000"/>
<circle cx="674.20" cy="537.50" r="2.7" fill="#000"/>
<line x1="606.50" y1="477.50" x2="606.50" y2="537.50" stroke="#333" stroke-width="1.0"/>
<line x1="597.80" y1="506.00" x2="615.20" y2="506.00" stroke="#000" stroke-width="1.9"/>
<line x1="597.80" y1="510.20" x2="615.20" y2="510.20" stroke="#000" stroke-width="1.9"/>
<path d="M555.90,551.50 L619.50,551.50 L619.50,567.00" stroke="#333" stroke-width="1.0" fill="none" stroke-linejoin="miter"/>
<line x1="610.90" y1="567.00" x2="628.10" y2="567.00" stroke="#000" stroke-width="1.9"/>
<line x1="610.90" y1="571.40" x2="628.10" y2="571.40" stroke="#000" stroke-width="1.9"/>
<line x1="619.50" y1="571.40" x2="619.50" y2="618.00" stroke="#333" stroke-width="1.0"/>
<line x1="618.60" y1="618.00" x2="618.60" y2="689.80" stroke="#333" stroke-width="1.0"/>
<line x1="555.90" y1="585.50" x2="619.50" y2="585.50" stroke="#333" stroke-width="1.0"/>
<circle cx="619.50" cy="585.50" r="2.7" fill="#000"/>
<path d="M555.90,597.50 L616.50,597.50 A3.0,3.0 0 0 1 622.50,597.50 L652.30,597.50" stroke="#333" stroke-width="1.0" fill="none"/>
<path d="M555.90,609.50 L580.50,609.50 L580.50,618.00" stroke="#333" stroke-width="1.0" fill="none" stroke-linejoin="miter"/>
<path d="M579.50,618.00 L579.50,744.50 L651.50,744.50" stroke="#333" stroke-width="1.0" fill="none" stroke-linejoin="miter"/>
</g>
<text x="288.60" y="116.60" font-family="Liberation Serif" font-size="11.2" text-anchor="middle" fill="#333">19</text>
<text x="304.30" y="122.90" font-family="Liberation Sans" font-size="11.9" text-anchor="start" fill="#000" textLength="32.37" lengthAdjust="spacingAndGlyphs">COMP</text>
<text x="288.60" y="166.60" font-family="Liberation Serif" font-size="11.2" text-anchor="middle" fill="#333">2</text>
<text x="304.30" y="172.90" font-family="Liberation Sans" font-size="11.9" text-anchor="start" fill="#000" textLength="70.62" lengthAdjust="spacingAndGlyphs">PA0/WAKEUP</text>
<text x="288.60" y="200.60" font-family="Liberation Serif" font-size="11.2" text-anchor="middle" fill="#333">44</text>
<text x="304.30" y="206.90" font-family="Liberation Sans" font-size="11.9" text-anchor="start" fill="#000" textLength="20.31" lengthAdjust="spacingAndGlyphs">PD0</text>
<text x="288.60" y="215.60" font-family="Liberation Serif" font-size="11.2" text-anchor="middle" fill="#333">45</text>
<text x="304.30" y="221.90" font-family="Liberation Sans" font-size="11.9" text-anchor="start" fill="#000" textLength="20.31" lengthAdjust="spacingAndGlyphs">PD1</text>
<text x="288.60" y="230.60" font-family="Liberation Serif" font-size="11.2" text-anchor="middle" fill="#333">46</text>
<text x="304.30" y="236.90" font-family="Liberation Sans" font-size="11.9" text-anchor="start" fill="#000" textLength="45.31" lengthAdjust="spacingAndGlyphs">PD6/SDA</text>
<text x="288.60" y="245.60" font-family="Liberation Serif" font-size="11.2" text-anchor="middle" fill="#333">47</text>
<text x="304.30" y="251.90" font-family="Liberation Sans" font-size="11.9" text-anchor="start" fill="#000" textLength="42.18" lengthAdjust="spacingAndGlyphs">PD7/SCL</text>
<text x="288.60" y="258.60" font-family="Liberation Serif" font-size="11.2" text-anchor="middle" fill="#333">42</text>
<text x="304.30" y="264.90" font-family="Liberation Sans" font-size="11.9" text-anchor="start" fill="#000" textLength="19.84" lengthAdjust="spacingAndGlyphs">PA3</text>
<text x="288.60" y="273.60" font-family="Liberation Serif" font-size="11.2" text-anchor="middle" fill="#333">43</text>
<text x="304.30" y="279.90" font-family="Liberation Sans" font-size="11.9" text-anchor="start" fill="#000" textLength="19.84" lengthAdjust="spacingAndGlyphs">PA4</text>
<text x="288.60" y="317.60" font-family="Liberation Serif" font-size="11.2" text-anchor="middle" fill="#333">11</text>
<text x="304.30" y="323.90" font-family="Liberation Sans" font-size="11.9" text-anchor="start" fill="#000" textLength="30.32" lengthAdjust="spacingAndGlyphs">PGND</text>
<text x="288.60" y="342.60" font-family="Liberation Serif" font-size="11.2" text-anchor="middle" fill="#333">0</text>
<text x="304.30" y="348.90" font-family="Liberation Sans" font-size="11.9" text-anchor="start" fill="#000" textLength="27.59" lengthAdjust="spacingAndGlyphs">EPAD</text>
<text x="288.60" y="356.60" font-family="Liberation Serif" font-size="11.2" text-anchor="middle" fill="#333">1</text>
<text x="304.30" y="362.90" font-family="Liberation Sans" font-size="11.9" text-anchor="start" fill="#000" textLength="23.60" lengthAdjust="spacingAndGlyphs">GND</text>
<text x="288.60" y="377.60" font-family="Liberation Serif" font-size="11.2" text-anchor="middle" fill="#333">40</text>
<text x="304.30" y="383.90" font-family="Liberation Sans" font-size="11.9" text-anchor="start" fill="#000" textLength="51.61" lengthAdjust="spacingAndGlyphs">PA1/NTC1</text>
<text x="288.60" y="398.60" font-family="Liberation Serif" font-size="11.2" text-anchor="middle" fill="#333">41</text>
<text x="304.30" y="404.90" font-family="Liberation Sans" font-size="11.9" text-anchor="start" fill="#000" textLength="51.61" lengthAdjust="spacingAndGlyphs">PA2/NTC2</text>
<text x="288.60" y="420.60" font-family="Liberation Serif" font-size="11.2" text-anchor="middle" fill="#333">3</text>
<text x="304.30" y="426.90" font-family="Liberation Sans" font-size="11.9" text-anchor="start" fill="#000" textLength="27.78" lengthAdjust="spacingAndGlyphs">AVCC</text>
<text x="288.60" y="440.60" font-family="Liberation Serif" font-size="11.2" text-anchor="middle" fill="#333">48</text>
<text x="304.30" y="442.40" font-family="Liberation Sans" font-size="11.9" text-anchor="start" fill="#000" textLength="28.25" lengthAdjust="spacingAndGlyphs">DVCC</text>
<text x="288.60" y="460.60" font-family="Liberation Serif" font-size="11.2" text-anchor="middle" fill="#333">6</text>
<text x="304.30" y="466.90" font-family="Liberation Sans" font-size="11.9" text-anchor="start" fill="#000" textLength="27.33" lengthAdjust="spacingAndGlyphs">VBAT</text>
<text x="288.60" y="475.60" font-family="Liberation Serif" font-size="11.2" text-anchor="middle" fill="#333">4</text>
<text x="304.30" y="481.90" font-family="Liberation Sans" font-size="11.9" text-anchor="start" fill="#000" textLength="26.89" lengthAdjust="spacingAndGlyphs">CSN2</text>
<text x="288.60" y="535.60" font-family="Liberation Serif" font-size="11.2" text-anchor="middle" fill="#333">5</text>
<text x="304.30" y="541.90" font-family="Liberation Sans" font-size="11.9" text-anchor="start" fill="#000" textLength="25.21" lengthAdjust="spacingAndGlyphs">CSP2</text>
<text x="288.60" y="550.60" font-family="Liberation Serif" font-size="11.2" text-anchor="middle" fill="#333">8</text>
<text x="304.30" y="556.90" font-family="Liberation Sans" font-size="11.9" text-anchor="start" fill="#000" textLength="18.99" lengthAdjust="spacingAndGlyphs">BT2</text>
<text x="288.60" y="583.60" font-family="Liberation Serif" font-size="11.2" text-anchor="middle" fill="#333">9</text>
<text x="304.30" y="589.90" font-family="Liberation Sans" font-size="11.9" text-anchor="start" fill="#000" textLength="23.13" lengthAdjust="spacingAndGlyphs">SW2</text>
<text x="288.60" y="595.60" font-family="Liberation Serif" font-size="11.2" text-anchor="middle" fill="#333">7</text>
<text x="304.30" y="601.90" font-family="Liberation Sans" font-size="11.9" text-anchor="start" fill="#000" textLength="21.69" lengthAdjust="spacingAndGlyphs">HD2</text>
<text x="288.60" y="607.60" font-family="Liberation Serif" font-size="11.2" text-anchor="middle" fill="#333">10</text>
<text x="304.30" y="613.90" font-family="Liberation Sans" font-size="11.9" text-anchor="start" fill="#000" textLength="19.05" lengthAdjust="spacingAndGlyphs">LD2</text>
<text x="567.00" y="54.60" font-family="Liberation Serif" font-size="11.2" text-anchor="middle" fill="#333">24</text>
<text x="551.60" y="60.90" font-family="Liberation Sans" font-size="11.9" text-anchor="end" fill="#000" textLength="43.85" lengthAdjust="spacingAndGlyphs">NDRV_A</text>
<text x="567.00" y="89.60" font-family="Liberation Serif" font-size="11.2" text-anchor="middle" fill="#333">28</text>
<text x="551.60" y="95.90" font-family="Liberation Sans" font-size="11.9" text-anchor="end" fill="#000" textLength="33.45" lengthAdjust="spacingAndGlyphs">CC1_A</text>
<text x="567.00" y="103.60" font-family="Liberation Serif" font-size="11.2" text-anchor="middle" fill="#333">29</text>
<text x="551.60" y="109.90" font-family="Liberation Sans" font-size="11.9" text-anchor="end" fill="#000" textLength="33.45" lengthAdjust="spacingAndGlyphs">CC2_A</text>
<text x="567.00" y="119.60" font-family="Liberation Serif" font-size="11.2" text-anchor="middle" fill="#333">27</text>
<text x="551.60" y="125.90" font-family="Liberation Sans" font-size="11.9" text-anchor="end" fill="#000" textLength="27.72" lengthAdjust="spacingAndGlyphs">DP_A</text>
<text x="567.00" y="134.60" font-family="Liberation Serif" font-size="11.2" text-anchor="middle" fill="#333">26</text>
<text x="551.60" y="140.90" font-family="Liberation Sans" font-size="11.9" text-anchor="end" fill="#000" textLength="32.11" lengthAdjust="spacingAndGlyphs">DM_A</text>
<text x="567.00" y="150.60" font-family="Liberation Serif" font-size="11.2" text-anchor="middle" fill="#333">34</text>
<text x="551.60" y="156.90" font-family="Liberation Sans" font-size="11.9" text-anchor="end" fill="#000" textLength="48.06" lengthAdjust="spacingAndGlyphs">VMON_B</text>
<text x="567.00" y="164.60" font-family="Liberation Serif" font-size="11.2" text-anchor="middle" fill="#333">35</text>
<text x="551.60" y="170.90" font-family="Liberation Sans" font-size="11.9" text-anchor="end" fill="#000" textLength="43.40" lengthAdjust="spacingAndGlyphs">NDRV_B</text>
<text x="567.00" y="211.60" font-family="Liberation Serif" font-size="11.2" text-anchor="middle" fill="#333">31</text>
<text x="551.60" y="217.90" font-family="Liberation Sans" font-size="11.9" text-anchor="end" fill="#000" textLength="33.00" lengthAdjust="spacingAndGlyphs">CC1_B</text>
<text x="567.00" y="225.60" font-family="Liberation Serif" font-size="11.2" text-anchor="middle" fill="#333">30</text>
<text x="551.60" y="231.90" font-family="Liberation Sans" font-size="11.9" text-anchor="end" fill="#000" textLength="33.00" lengthAdjust="spacingAndGlyphs">CC2_B</text>
<text x="567.00" y="241.60" font-family="Liberation Serif" font-size="11.2" text-anchor="middle" fill="#333">32</text>
<text x="551.60" y="247.90" font-family="Liberation Sans" font-size="11.9" text-anchor="end" fill="#000" textLength="27.26" lengthAdjust="spacingAndGlyphs">DP_B</text>
<text x="567.00" y="256.60" font-family="Liberation Serif" font-size="11.2" text-anchor="middle" fill="#333">33</text>
<text x="551.60" y="262.90" font-family="Liberation Sans" font-size="11.9" text-anchor="end" fill="#000" textLength="31.66" lengthAdjust="spacingAndGlyphs">DM_B</text>
<text x="567.00" y="272.60" font-family="Liberation Serif" font-size="11.2" text-anchor="middle" fill="#333">37</text>
<text x="551.60" y="278.90" font-family="Liberation Sans" font-size="11.9" text-anchor="end" fill="#000" textLength="47.92" lengthAdjust="spacingAndGlyphs">VMON_C</text>
<text x="567.00" y="285.60" font-family="Liberation Serif" font-size="11.2" text-anchor="middle" fill="#333">36</text>
<text x="551.60" y="291.90" font-family="Liberation Sans" font-size="11.9" text-anchor="end" fill="#000" textLength="43.25" lengthAdjust="spacingAndGlyphs">NDRV_C</text>
<text x="567.00" y="334.60" font-family="Liberation Serif" font-size="11.2" text-anchor="middle" fill="#333">39</text>
<text x="551.60" y="340.90" font-family="Liberation Sans" font-size="11.9" text-anchor="end" fill="#000" textLength="27.12" lengthAdjust="spacingAndGlyphs">DP_C</text>
<text x="567.00" y="349.60" font-family="Liberation Serif" font-size="11.2" text-anchor="middle" fill="#333">38</text>
<text x="551.60" y="355.90" font-family="Liberation Sans" font-size="11.9" text-anchor="end" fill="#000" textLength="31.51" lengthAdjust="spacingAndGlyphs">DM_C</text>
<text x="567.00" y="367.60" font-family="Liberation Serif" font-size="11.2" text-anchor="middle" fill="#333">20</text>
<text x="551.60" y="373.90" font-family="Liberation Sans" font-size="11.9" text-anchor="end" fill="#000" textLength="48.98" lengthAdjust="spacingAndGlyphs">VMON_D</text>
<text x="567.00" y="379.60" font-family="Liberation Serif" font-size="11.2" text-anchor="middle" fill="#333">21</text>
<text x="551.60" y="385.90" font-family="Liberation Sans" font-size="11.9" text-anchor="end" fill="#000" textLength="44.32" lengthAdjust="spacingAndGlyphs">NDRV_D</text>
<text x="567.00" y="427.60" font-family="Liberation Serif" font-size="11.2" text-anchor="middle" fill="#333">22</text>
<text x="551.60" y="433.90" font-family="Liberation Sans" font-size="11.9" text-anchor="end" fill="#000" textLength="28.19" lengthAdjust="spacingAndGlyphs">DP_D</text>
<text x="567.00" y="442.60" font-family="Liberation Serif" font-size="11.2" text-anchor="middle" fill="#333">23</text>
<text x="551.60" y="448.90" font-family="Liberation Sans" font-size="11.9" text-anchor="end" fill="#000" textLength="32.58" lengthAdjust="spacingAndGlyphs">DM_D</text>
<text x="567.00" y="460.60" font-family="Liberation Serif" font-size="11.2" text-anchor="middle" fill="#333">16</text>
<text x="551.60" y="466.90" font-family="Liberation Sans" font-size="11.9" text-anchor="end" fill="#000" textLength="31.75" lengthAdjust="spacingAndGlyphs">VPWR</text>
<text x="567.00" y="475.60" font-family="Liberation Serif" font-size="11.2" text-anchor="middle" fill="#333">18</text>
<text x="551.60" y="481.90" font-family="Liberation Sans" font-size="11.9" text-anchor="end" fill="#000" textLength="25.21" lengthAdjust="spacingAndGlyphs">CSP1</text>
<text x="567.00" y="535.60" font-family="Liberation Serif" font-size="11.2" text-anchor="middle" fill="#333">17</text>
<text x="551.60" y="541.90" font-family="Liberation Sans" font-size="11.9" text-anchor="end" fill="#000" textLength="26.89" lengthAdjust="spacingAndGlyphs">CSN1</text>
<text x="567.00" y="549.60" font-family="Liberation Serif" font-size="11.2" text-anchor="middle" fill="#333">14</text>
<text x="551.60" y="555.90" font-family="Liberation Sans" font-size="11.9" text-anchor="end" fill="#000" textLength="18.99" lengthAdjust="spacingAndGlyphs">BT1</text>
<text x="567.00" y="583.60" font-family="Liberation Serif" font-size="11.2" text-anchor="middle" fill="#333">13</text>
<text x="551.60" y="589.90" font-family="Liberation Sans" font-size="11.9" text-anchor="end" fill="#000" textLength="23.13" lengthAdjust="spacingAndGlyphs">SW1</text>
<text x="567.00" y="595.60" font-family="Liberation Serif" font-size="11.2" text-anchor="middle" fill="#333">15</text>
<text x="551.60" y="601.90" font-family="Liberation Sans" font-size="11.9" text-anchor="end" fill="#000" textLength="21.69" lengthAdjust="spacingAndGlyphs">HD1</text>
<text x="567.00" y="607.60" font-family="Liberation Serif" font-size="11.2" text-anchor="middle" fill="#333">12</text>
<text x="551.60" y="613.90" font-family="Liberation Sans" font-size="11.9" text-anchor="end" fill="#000" textLength="19.05" lengthAdjust="spacingAndGlyphs">LD1</text>
<text x="456.20" y="58.00" font-family="Liberation Sans" font-size="11.9" text-anchor="middle" fill="#000" textLength="48.52" lengthAdjust="spacingAndGlyphs">VMON_A</text>
<text x="443.90" y="44.80" font-family="Liberation Serif" font-size="11.2" text-anchor="middle" fill="#333">25</text>
<text x="428.00" y="350.00" font-family="Liberation Sans" font-size="34.4" text-anchor="middle" fill="#000" textLength="136.00" lengthAdjust="spacingAndGlyphs">SC2016A</text>
<text x="823.50" y="81.20" font-family="Liberation Sans" font-size="12.3" text-anchor="start" fill="#000">VBUS</text>
<text x="823.50" y="95.90" font-family="Liberation Sans" font-size="12.3" text-anchor="start" fill="#000">CC1</text>
<text x="823.50" y="109.90" font-family="Liberation Sans" font-size="12.3" text-anchor="start" fill="#000">CC2</text>
<text x="823.50" y="126.10" font-family="Liberation Sans" font-size="12.3" text-anchor="start" fill="#000">DP</text>
<text x="823.50" y="140.80" font-family="Liberation Sans" font-size="12.3" text-anchor="start" fill="#000">DM</text>
<text x="823.50" y="155.80" font-family="Liberation Sans" font-size="12.3" text-anchor="start" fill="#000">GND</text>
<text x="823.50" y="203.20" font-family="Liberation Sans" font-size="12.3" text-anchor="start" fill="#000">VBUS</text>
<text x="823.50" y="217.70" font-family="Liberation Sans" font-size="12.3" text-anchor="start" fill="#000">CC1</text>
<text x="823.50" y="232.00" font-family="Liberation Sans" font-size="12.3" text-anchor="start" fill="#000">CC2</text>
<text x="823.50" y="247.60" font-family="Liberation Sans" font-size="12.3" text-anchor="start" fill="#000">DP</text>
<text x="823.50" y="262.70" font-family="Liberation Sans" font-size="12.3" text-anchor="start" fill="#000">DM</text>
<text x="823.50" y="277.90" font-family="Liberation Sans" font-size="12.3" text-anchor="start" fill="#000">GND</text>
<text x="823.50" y="324.90" font-family="Liberation Sans" font-size="12.3" text-anchor="start" fill="#000">VBUS</text>
<text x="823.50" y="340.70" font-family="Liberation Sans" font-size="12.3" text-anchor="start" fill="#000">DP</text>
<text x="823.50" y="356.00" font-family="Liberation Sans" font-size="12.3" text-anchor="start" fill="#000">DM</text>
<text x="823.50" y="371.20" font-family="Liberation Sans" font-size="12.3" text-anchor="start" fill="#000">GND</text>
<text x="823.50" y="417.60" font-family="Liberation Sans" font-size="12.3" text-anchor="start" fill="#000">VBUS</text>
<text x="823.50" y="433.40" font-family="Liberation Sans" font-size="12.3" text-anchor="start" fill="#000">DP</text>
<text x="823.50" y="449.10" font-family="Liberation Sans" font-size="12.3" text-anchor="start" fill="#000">DM</text>
<text x="823.50" y="464.10" font-family="Liberation Sans" font-size="12.3" text-anchor="start" fill="#000">GND</text>
</svg>
</body></html>
